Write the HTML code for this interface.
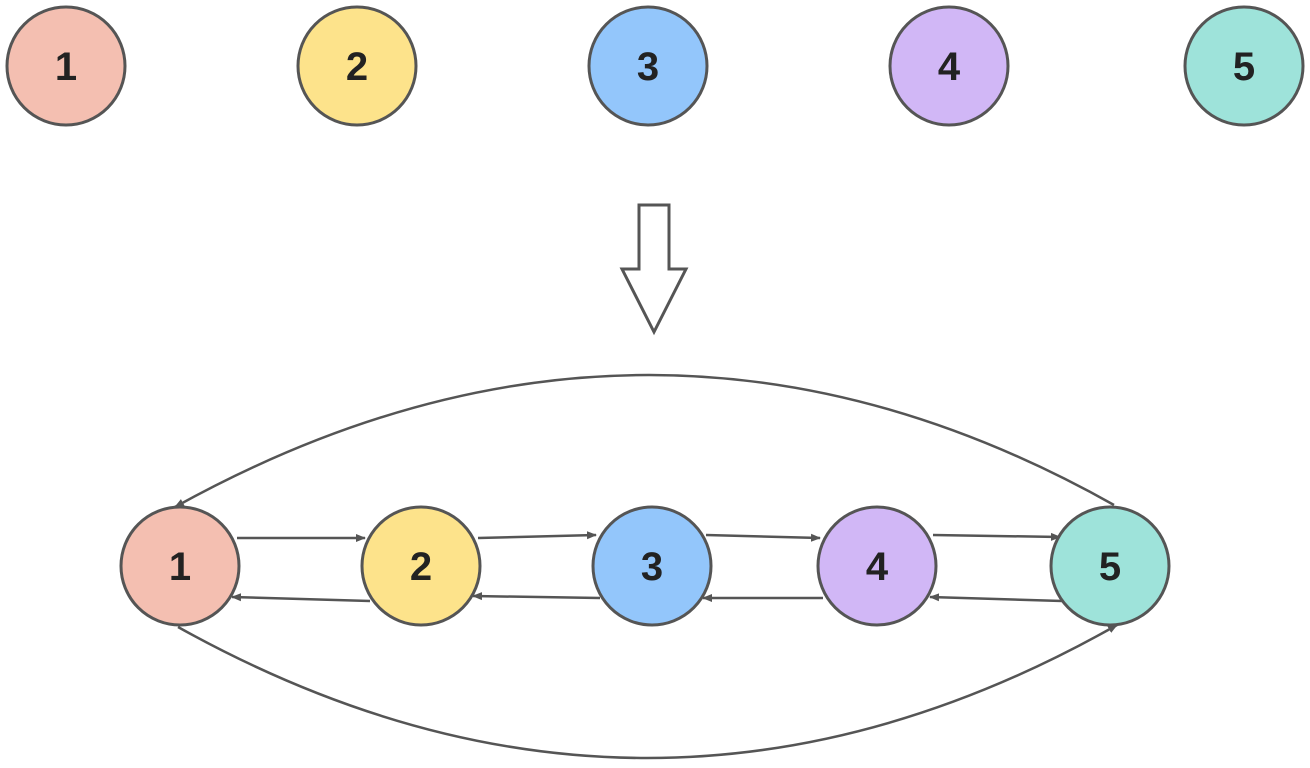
<!DOCTYPE html>
<html><head><style>body{margin:0;background:#fff}</style></head><body>
<svg width="1310" height="763" xmlns="http://www.w3.org/2000/svg">
<defs><marker id="a" markerWidth="10" markerHeight="10" refX="9" refY="5" orient="auto" markerUnits="userSpaceOnUse" viewBox="0 0 10 10"><path d="M0,1 L10,5 L0,9 Z" fill="#555"/></marker></defs>
<g stroke="#555" stroke-width="3">
<circle cx="66" cy="66" r="59" fill="#f4bfb1"/>
<circle cx="357" cy="66" r="59" fill="#fde38b"/>
<circle cx="648" cy="66" r="59" fill="#93c6fb"/>
<circle cx="949" cy="66" r="59" fill="#d1b7f6"/>
<circle cx="1244" cy="66" r="59" fill="#9ee3da"/>
<path d="M639,205 H669 V269 H686 L654,332 L622,269 H639 Z" fill="#fff" stroke-width="3"/>
</g>
<g stroke="#555" stroke-width="2.5" fill="none" marker-end="url(#a)">
<path d="M1114,505 Q650,244 175,507"/>
<path d="M178,627 Q650,890 1117,625"/>
<path d="M237,538 L365,538"/>
<path d="M370,601 L232,597"/>
<path d="M478,538 L596,535"/>
<path d="M600,598 L473,596"/>
<path d="M706,535 L820,538"/>
<path d="M823,598 L703,598"/>
<path d="M933,535 L1060,537"/>
<path d="M1062,601 L930,597"/>
</g>
<g stroke="#555" stroke-width="3">
<circle cx="180" cy="566" r="59" fill="#f4bfb1"/>
<circle cx="421" cy="566" r="59" fill="#fde38b"/>
<circle cx="652" cy="566" r="59" fill="#93c6fb"/>
<circle cx="877" cy="566" r="59" fill="#d1b7f6"/>
<circle cx="1110" cy="566" r="59" fill="#9ee3da"/>
</g>
<g font-family="Liberation Sans, sans-serif" font-weight="bold" font-size="40" fill="#222" text-anchor="middle">
<text x="66" y="80">1</text><text x="357" y="80">2</text><text x="648" y="80">3</text><text x="949" y="80">4</text><text x="1244" y="80">5</text>
<text x="180" y="580">1</text><text x="421" y="580">2</text><text x="652" y="580">3</text><text x="877" y="580">4</text><text x="1110" y="580">5</text>
</g>
</svg>
</body></html>
